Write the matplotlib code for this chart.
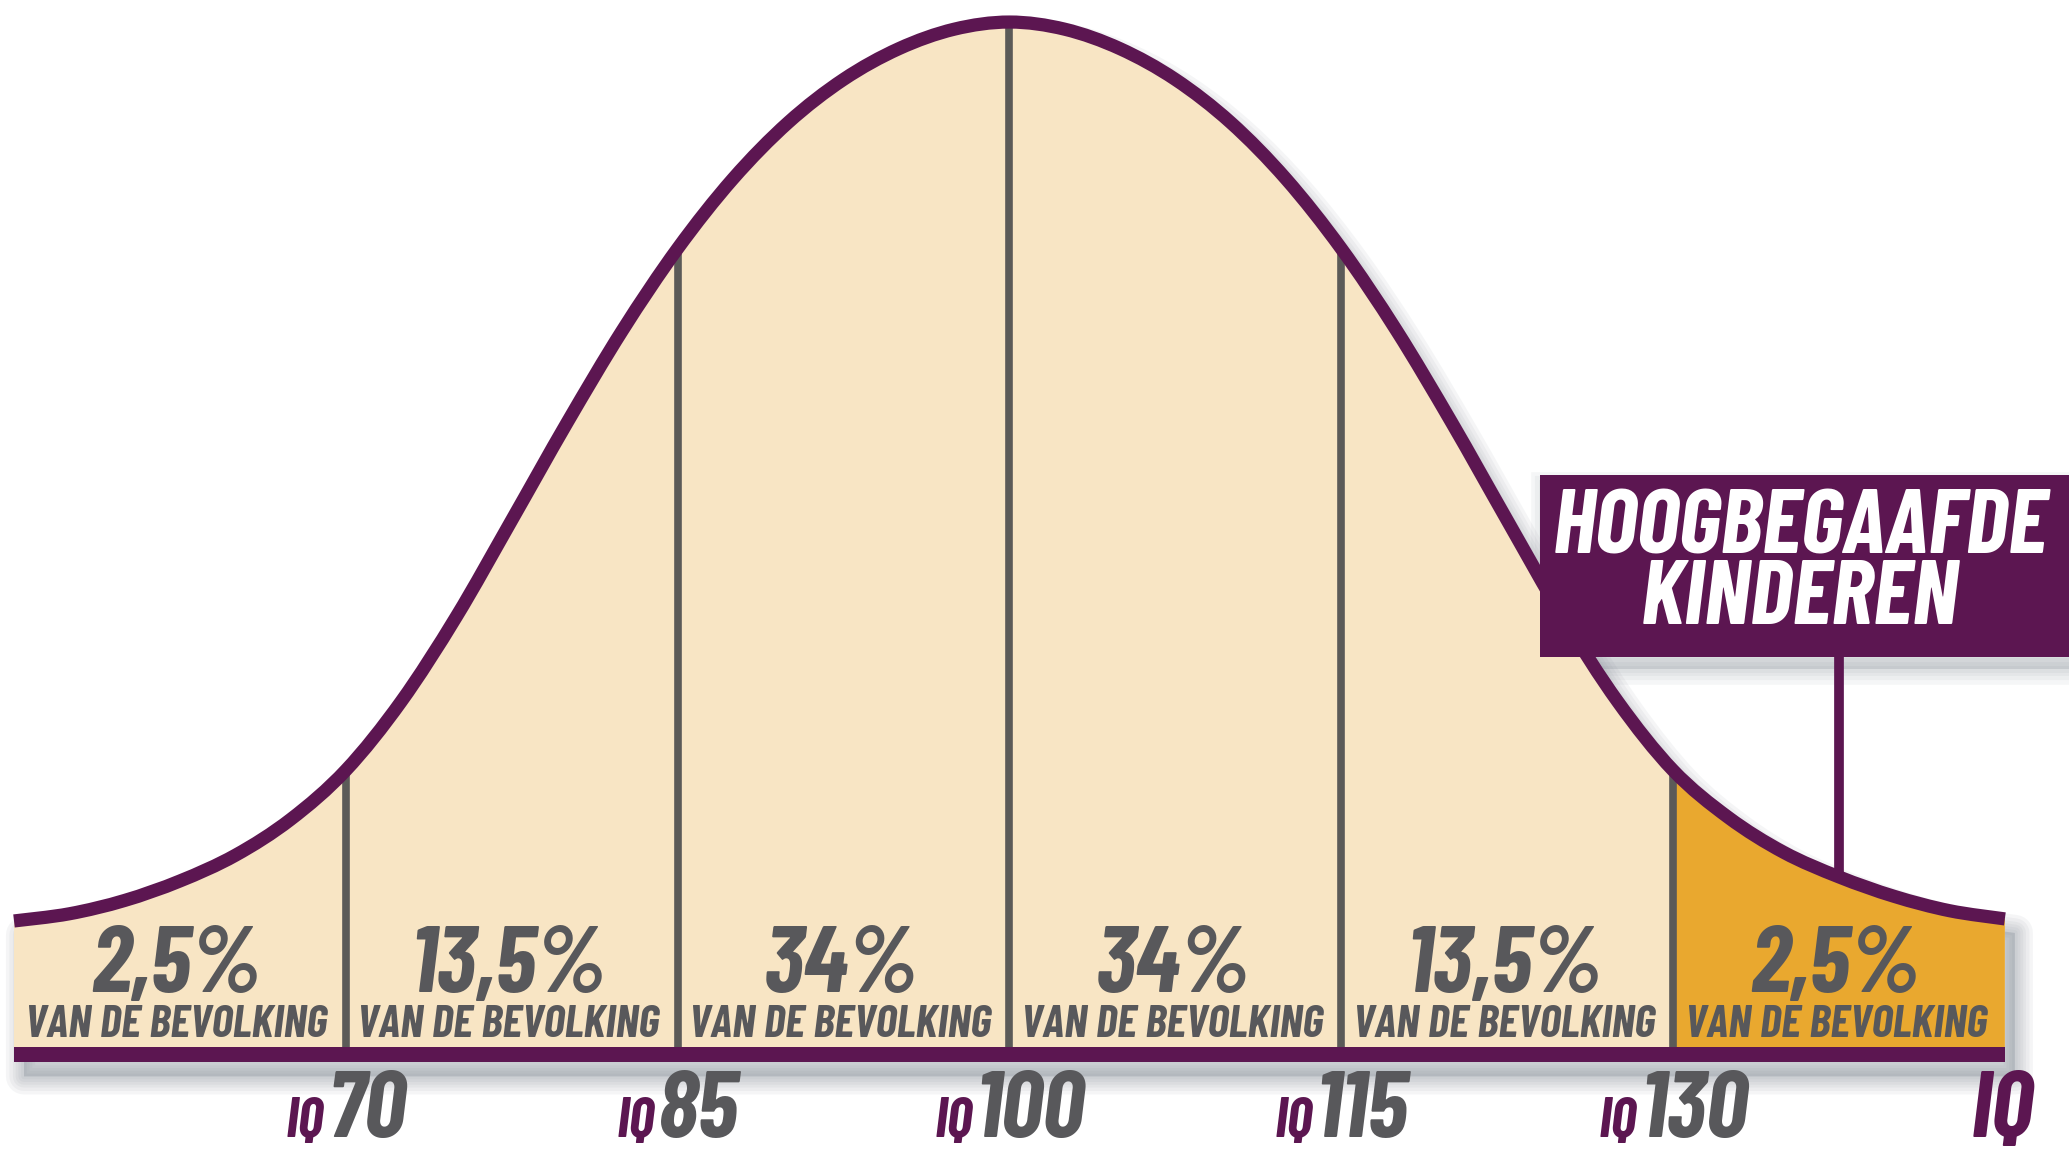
import numpy as np
import matplotlib
matplotlib.use("Agg")
import matplotlib.pyplot as plt
from matplotlib.path import Path
from matplotlib.patches import PathPatch, Rectangle
from matplotlib.transforms import Affine2D

# ---------------- data ----------------
iq = [55, 57.5, 60, 62.5, 65, 67.5, 70, 72.5, 75, 77.5, 80, 82.5, 85, 87.5,
      90, 92.5, 95, 97.5, 100, 102.5, 105, 107.5, 110, 112.5, 115, 117.5,
      120, 122.5, 125, 127.5, 130, 132.5, 135, 137.5, 140, 142.5, 145]
# height of the bell curve above the base bar (peak = 100)
height = [12.3, 13.0, 14.3, 16.2, 18.7, 22.2, 27.0, 33.7, 42.0, 51.4, 60.9,
          69.9, 77.9, 84.7, 90.2, 94.4, 97.4, 99.3, 100.0, 99.3, 97.4, 94.4,
          90.2, 84.7, 77.9, 69.9, 60.9, 51.4, 42.0, 33.7, 27.0, 22.4, 19.0,
          16.6, 14.7, 13.3, 12.5]
boundaries = [70, 85, 100, 115, 130]
segment_centres = [62.5, 77.5, 92.5, 107.5, 122.5, 137.5]
shares = ["2,5%", "13,5%", "34%", "34%", "13,5%", "2,5%"]
share_caption = "VAN DE BEVOLKING"
tick_prefix = "IQ"
tick_numbers = ["70", "85", "100", "115", "130"]
axis_end_label = "IQ"
gifted_label = "HOOGBEGAAFDE\nKINDEREN"
gifted_iq = 137.5
gifted_from = 130

# ---------------- style ----------------
PURPLE = "#5c1651"
BEIGE = "#f8e5c4"
GOLD = "#e9a82f"
GREY_TXT = "#58585b"
DIV_GREY = "#5b5a58"
SHADOW = "#7d8590"
FONT = ["Barlow Condensed", "Fira Sans Extra Condensed", "Roboto Condensed", "DejaVu Sans"]

fig = plt.figure(figsize=(20.69, 11.56), dpi=100)
ax = fig.add_axes([0, 0, 1, 1])
ax.set_xlim(54.367, 147.90)
ax.set_ylim(-10.63, 102.15)
ax.axis("off")

x0, x1 = iq[0], iq[-1]
bar_h = 1.5


def smooth_verts(xs, ys):
    pts = np.column_stack([xs, ys]).astype(float)
    n = len(pts)
    verts = [tuple(pts[0])]
    codes = [Path.MOVETO]
    for i in range(n - 1):
        p0 = pts[i - 1] if i > 0 else pts[i]
        p1, p2 = pts[i], pts[i + 1]
        p3 = pts[i + 2] if i + 2 < n else pts[i + 1]
        c1 = p1 + (p2 - p0) / 6.0
        c2 = p2 - (p3 - p1) / 6.0
        verts += [tuple(c1), tuple(c2), tuple(p2)]
        codes += [Path.CURVE4] * 3
    return verts, codes


cv, cc = smooth_verts(iq, height)
curve_path = Path(cv, cc)
close_codes = [Path.LINETO, Path.LINETO, Path.LINETO, Path.CLOSEPOLY]
fill_path = Path(cv + [(x1, 0), (x0, 0), (x0, height[0]), (x0, height[0])], cc + close_codes)
silhouette = Path(cv + [(x1, -bar_h), (x0, -bar_h), (x0, height[0]), (x0, height[0])],
                  cc + close_codes)

# ---- soft drop shadows (offset down-right, blurred by stacked strokes) ----
shadow_tf = ax.transData + Affine2D().translate(10, -14)
ax.add_patch(PathPatch(silhouette, facecolor=SHADOW, edgecolor="none", alpha=0.3,
                       transform=shadow_tf, zorder=1))
for lw in [26, 21, 16, 12, 8, 4]:
    ax.add_patch(PathPatch(silhouette, fill=False, edgecolor=SHADOW, lw=lw, alpha=0.075,
                           joinstyle="round", transform=shadow_tf, zorder=1))

# beige area
ax.add_patch(PathPatch(fill_path, facecolor=BEIGE, edgecolor="none", zorder=2))
# gold area for the gifted tail
gold = PathPatch(fill_path, facecolor=GOLD, edgecolor="none", zorder=3)
ax.add_patch(gold)
gold.set_clip_path(Rectangle((gifted_from, -5), x1 - gifted_from, 120, transform=ax.transData))

# dividers
for b in boundaries:
    hb = height[iq.index(b)]
    ax.plot([b, b], [0, hb - 0.5], color=DIV_GREY, lw=5.5, solid_capstyle="butt", zorder=4)

# outline
ax.add_patch(PathPatch(curve_path, fill=False, edgecolor=PURPLE, lw=9.5,
                       capstyle="butt", joinstyle="round", zorder=6))

# base bar
ax.fill_between([x0, x1], -bar_h, 0.0, color=PURPLE, lw=0, zorder=6)

# callout box + pointer
box_left, box_bottom, box_top = 124.0, 38.1, 55.8
ax.add_patch(Rectangle((box_left, box_bottom), 30, box_top - box_bottom,
                       facecolor=PURPLE, edgecolor="none", zorder=7))
box_path = Path([(box_left, box_bottom), (box_left + 30, box_bottom), (box_left + 30, box_top),
                 (box_left, box_top), (box_left, box_bottom)],
                [Path.MOVETO, Path.LINETO, Path.LINETO, Path.LINETO, Path.CLOSEPOLY])
box_tf = ax.transData + Affine2D().translate(6, -12)
ax.add_patch(PathPatch(box_path, facecolor=SHADOW, edgecolor="none", alpha=0.22,
                       transform=box_tf, zorder=1.6))
for lw in [22, 16, 10, 5]:
    ax.add_patch(PathPatch(box_path, fill=False, edgecolor=SHADOW, lw=lw, alpha=0.07,
                           transform=box_tf, zorder=1.6))

hp = height[iq.index(gifted_iq)]
ax.plot([gifted_iq, gifted_iq], [hp, box_bottom], color=PURPLE, lw=7,
        solid_capstyle="butt", zorder=5)
ax.text(135.74, 47.0, gifted_label, ha="center", va="center", color="white",
        fontsize=66, fontweight="bold", style="italic", family=FONT,
        linespacing=0.84, zorder=8)

# segment labels
for xc, s in zip(segment_centres, shares):
    ax.text(xc - 0.15, 5.4, s, ha="center", va="baseline", color=GREY_TXT, fontsize=68,
            fontweight="bold", style="italic", family=FONT, zorder=7)
    ax.text(xc - 0.15, 1.0, share_caption, ha="center", va="baseline", color=GREY_TXT,
            fontsize=33, fontweight="bold", style="italic", family=FONT, zorder=7)

# IQ tick labels below the bar
base_y = -8.75
renderer = fig.canvas.get_renderer()
px_per_iq = ax.transData.transform((1, 0))[0] - ax.transData.transform((0, 0))[0]
for b, num in zip(boundaries, tick_numbers):
    t_num = ax.text(b, base_y, num, ha="left", va="baseline", color=GREY_TXT,
                    fontsize=68, fontweight="bold", style="italic", family=FONT, zorder=7)
    t_pre = ax.text(b, base_y, tick_prefix, ha="right", va="baseline", color=PURPLE,
                    fontsize=41, fontweight="bold", style="italic", family=FONT, zorder=7)
    w_num = t_num.get_window_extent(renderer).width
    w_pre = t_pre.get_window_extent(renderer).width
    gap = 3.0
    shift = -(w_num - w_pre - gap) / 2.0 / px_per_iq
    t_num.set_x(b + shift)
    t_pre.set_x(b + shift - gap / px_per_iq)
ax.text(x1 - 0.1, base_y, axis_end_label, ha="center", va="baseline", color=PURPLE,
        fontsize=68, fontweight="bold", style="italic", family=FONT, zorder=7)

fig.savefig("out.png", dpi=100)
